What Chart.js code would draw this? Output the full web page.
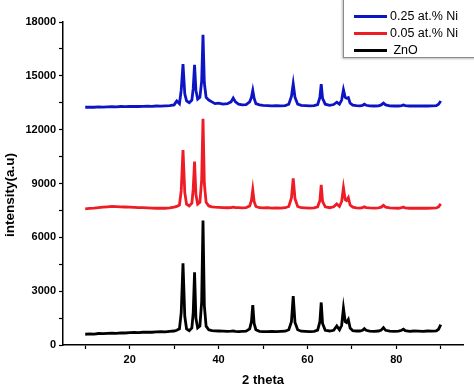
<!DOCTYPE html>
<html>
<head>
<meta charset="utf-8">
<script src="https://cdn.jsdelivr.net/npm/chart.js@4"></script>
<style>
  body { margin: 0; background: #fff; }
  #wrap { position: relative; width: 474px; height: 392px; overflow: hidden; }
  #legend {
    position: absolute; left: 343px; top: -2px; width: 150px; height: 58px;
    border: 1px solid #8a8a8a; box-shadow: -1px 1px 2px #bbb; background: #fff;
    font: 12.5px "Liberation Sans", Arial, sans-serif; color: #000;
  }
  .row { position: absolute; left: 10px; height: 14px; line-height: 14px; white-space: nowrap; }
  .row span.ln { display: inline-block; width: 33px; height: 2.5px; vertical-align: middle; margin-right: 3px; }
  #ytitle {
    position: absolute; left: 10px; top: 195px; width: 120px; height: 16px; line-height: 16px;
    margin-left: -60px; margin-top: -8px; text-align: center; transform: rotate(-90deg);
    font: bold 13.5px "Liberation Sans", Arial, sans-serif; color: #000; white-space: nowrap;
  }
</style>
</head>
<body>
<div id="wrap">
  <canvas id="chart" width="474" height="392"></canvas>
  <div id="legend"></div>
  <div id="ytitle">intensity(a.u)</div>
</div>
<script>
// 2 theta positions (deg)
const theta = [
  10,11,12,13,14,15,16,17,18,19,20,21,22,23,24,25,26,27,28,29,
  30,30.6,31.2,31.6,32.0,32.4,32.8,33.4,34.0,34.3,
  34.6,34.9,35.3,35.8,36.2,36.5,36.8,37.2,37.8,38.5,
  39.2,40,41,42,42.8,43.3,43.8,44.5,45.3,46.2,
  47.0,47.4,47.7,48.0,48.4,49.2,50,51,52,53,
  54,55,55.8,56.4,56.8,57.2,57.8,58.6,59.5,60.5,
  61.5,62.3,62.8,63.1,63.4,64,65,65.9,66.6,67.2,
  67.7,68.1,68.5,68.8,69.2,69.6,70.2,71,71.8,72.4,
  72.8,73.2,74,75,76,76.6,77.1,77.6,78.5,79.5,
  80.5,81.2,81.6,82,83,84,85,86,87,88,
  89,89.5,90
];

const zno = [
  600,620,610,640,630,650,660,650,680,670,690,700,690,710,720,710,730,740,730,760,
  780,820,900,1800,4550,1600,900,800,950,1800,
  4050,1500,950,1050,2400,6930,2200,1050,850,800,
  790,780,770,760,770,780,760,750,760,770,
  900,1300,2220,1200,850,760,750,740,760,750,
  760,770,850,1300,2720,1250,850,770,760,750,
  760,830,1300,2370,1200,820,780,820,1060,850,
  1100,2050,1300,1250,1420,950,800,780,780,820,
  910,820,770,760,780,830,970,820,770,760,
  770,820,880,800,760,780,770,760,780,770,
  790,880,1140
];

const ni005 = [
  7590,7610,7630,7660,7680,7700,7720,7710,7700,7690,7680,7670,7660,7650,7640,7630,7620,7630,7620,7640,
  7680,7720,7800,8600,10870,8500,7850,7750,7900,8700,
  10220,8400,7850,7950,9200,12600,9000,7950,7750,7700,
  7680,7670,7660,7650,7660,7680,7660,7650,7640,7660,
  7750,8050,8640,8000,7720,7650,7640,7650,7630,7640,
  7630,7650,7720,8200,9290,8150,7720,7650,7640,7630,
  7640,7700,8050,8920,8000,7700,7650,7700,7860,7720,
  8000,8770,8100,8050,8210,7800,7680,7640,7630,7650,
  7700,7660,7640,7630,7640,7680,7780,7680,7640,7630,
  7620,7650,7690,7640,7620,7630,7620,7630,7620,7630,
  7640,7700,7860
];

const ni025 = [
  13250,13260,13250,13270,13260,13270,13280,13270,13290,13280,13290,13300,13290,13300,13310,13300,13320,13310,13330,13340,
  13380,13600,13450,14200,15650,14000,13600,13500,13650,14300,
  15620,14200,13700,13800,14700,17290,14600,13800,13650,13550,
  13450,13480,13420,13450,13550,13760,13550,13420,13380,13400,
  13550,13800,14180,13750,13450,13380,13350,13340,13330,13340,
  13330,13340,13420,13850,14560,13800,13420,13350,13340,13330,
  13340,13400,13800,14540,13750,13420,13360,13400,13530,13420,
  13650,14220,13800,13750,13790,13480,13370,13340,13330,13350,
  13420,13360,13330,13320,13330,13380,13480,13380,13330,13320,
  13320,13340,13380,13340,13320,13330,13320,13330,13320,13330,
  13340,13420,13600
];

const seriesNames = ["0.25 at.% Ni", "0.05 at.% Ni", "ZnO"];
const seriesColors = ["#0d14c4", "#ee1c25", "#000000"];

const xTicks = [10,20,30,40,50,60,70,80,90];
const xLabels = [20,40,60,80];
const yTicks = [0,1500,3000,4500,6000,7500,9000,10500,12000,13500,15000,16500,18000];
const yLabels = [0,3000,6000,9000,12000,15000,18000];

const font = "'Liberation Sans', Arial, sans-serif";

function pts(ys) {
  return theta.map((t, i) => ({x: t, y: ys[i]}));
}

const datasets = [ni025, ni005, zno].map((ys, i) => ({
  label: seriesNames[i],
  data: pts(ys),
  borderColor: seriesColors[i],
  borderWidth: 2.8,
  pointRadius: 0,
  tension: 0,
  fill: false
}));

// legend box
const leg = document.getElementById("legend");
seriesNames.forEach((n, i) => {
  const d = document.createElement("div");
  d.className = "row";
  d.style.top = (10 + i * 17) + "px";
  d.innerHTML = `<span class="ln" style="background:${seriesColors[i]}"></span>${i == 2 ? "&nbsp;" : ""}${n}`;
  leg.appendChild(d);
});

new Chart(document.getElementById("chart"), {
  type: "line",
  data: { datasets },
  options: {
    responsive: false,
    animation: false,
    layout: { padding: { top: 22, right: 11 } },
    plugins: { legend: { display: false }, tooltip: { enabled: false } },
    scales: {
      x: {
        type: "linear", min: 5, max: 95,
        afterBuildTicks: s => { s.ticks = xTicks.map(v => ({value: v})); },
        afterFit: s => { s.height = 47; },
        ticks: {
          autoSkip: false, maxRotation: 0, color: "#000", padding: 4,
          font: { family: font, size: 11, weight: "bold" },
          callback: v => xLabels.includes(v) ? v : ""
        },
        grid: { drawOnChartArea: false, color: "#000", tickLength: 4, tickWidth: 1.2 },
        border: { color: "#000", width: 1.5 },
        title: { display: true, text: "2 theta", color: "#000", padding: { top: 6 },
                 font: { family: font, size: 13, weight: "bold" } }
      },
      y: {
        min: 0, max: 18000,
        afterBuildTicks: s => { s.ticks = yTicks.map(v => ({value: v})); },
        afterFit: s => { s.width = 63; },
        ticks: {
          autoSkip: false, color: "#000", padding: 3,
          font: { family: font, size: 11, weight: "bold" },
          callback: v => yLabels.includes(v) ? v : ""
        },
        grid: { drawOnChartArea: false, color: "#000", tickLength: 4, tickWidth: 1.2 },
        border: { color: "#000", width: 1.5 }
      }
    }
  }
});
</script>
</body>
</html>
